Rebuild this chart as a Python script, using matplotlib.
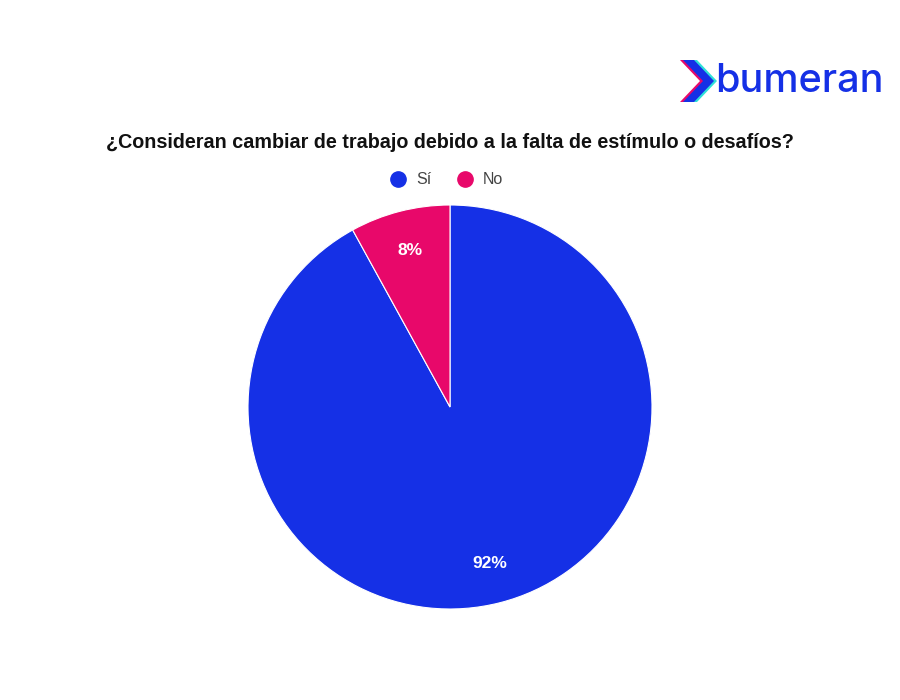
import matplotlib.pyplot as plt
import matplotlib.lines as mlines
from matplotlib.patches import Polygon

labels = ["Sí", "No"]
values = [92, 8]
colors = ["#1530e6", "#e8086a"]

title = "¿Consideran cambiar de trabajo debido a la falta de estímulo o desafíos?"

plt.rcParams['font.family'] = ['Liberation Sans', 'DejaVu Sans']

fig = plt.figure(figsize=(9, 7), dpi=100)
fig.patch.set_facecolor("white")

# pie axes: centre ~ (450, 407) px, radius ~ 202 px
r = 202
ax = fig.add_axes([(450 - r) / 900, (700 - 407 - r) / 700, 2 * r / 900, 2 * r / 700])
wedges, _, autotexts = ax.pie(
    values, colors=colors, startangle=90, counterclock=False,
    autopct=lambda p: f"{p:.0f}%", pctdistance=0.8,
    wedgeprops=dict(linewidth=0.8, edgecolor="white"),
    textprops=dict(color="white", fontsize=12.5, fontweight="bold"),
)
ax.set_xlim(-1, 1)
ax.set_ylim(-1, 1)
ax.set_aspect("equal")

fig.text(0.5, 1 - 143 / 700, title, ha="center", va="center",
         fontsize=14.2, fontweight="bold", color="#111111")

# legend with round markers
handles = [mlines.Line2D([], [], marker="o", linestyle="", markersize=11,
                         markerfacecolor=c, markeredgecolor=c) for c in colors]
fig.legend(handles, labels, loc="center", bbox_to_anchor=(0.497, 1 - 180 / 700),
           ncol=2, frameon=False, handlelength=0.8, handletextpad=0.7,
           columnspacing=1.7, fontsize=11.5, labelcolor="#444444")

# logo
def fx(x):
    return x / 900

def fy(y):
    return 1 - y / 700

for dx, col in [(0, "#e8086a"), (6, "#2de0d8"), (3, "#1530e6")]:
    pts = [(680 + dx, 60), (691 + dx, 60), (711 + dx, 81), (691 + dx, 102), (680 + dx, 102), (700 + dx, 81)]
    fig.patches.append(Polygon([(fx(x), fy(y)) for x, y in pts], closed=True,
                               transform=fig.transFigure, facecolor=col, edgecolor="none"))
fig.text(fx(715), fy(81), "bumeran", ha="left", va="center", fontsize=28.5,
         fontweight="medium", color="#1530e6", family=["Inter", "DejaVu Sans"])

fig.savefig("out.png", dpi=100, facecolor="white")
